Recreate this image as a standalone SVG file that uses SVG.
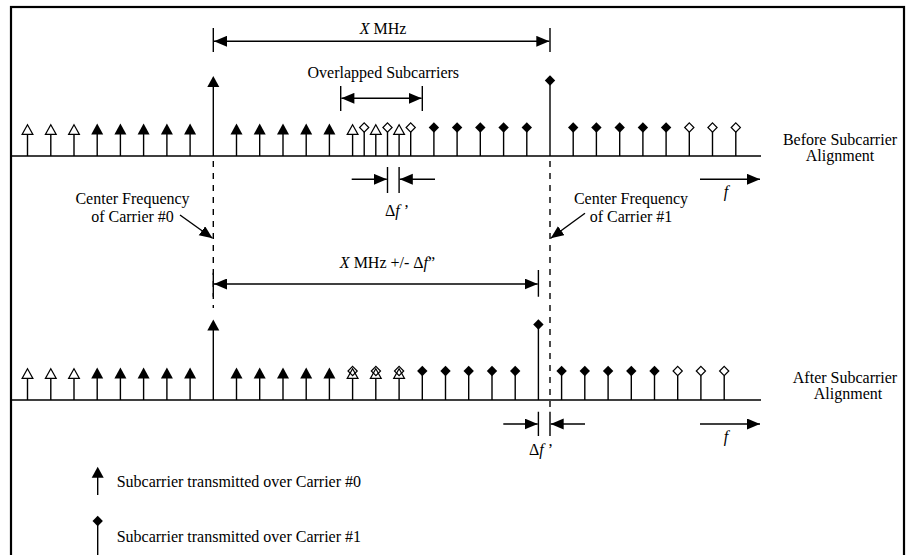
<svg xmlns="http://www.w3.org/2000/svg" xmlns:xlink="http://www.w3.org/1999/xlink" width="912" height="555" viewBox="0 0 912 555">
<style>
text{font-family:"Liberation Serif","Times New Roman",serif;font-size:16px;fill:#000}
.it{font-style:italic}
.ln{stroke:#000;stroke-width:1.4;fill:none}
.stem{stroke:#000;stroke-width:1.4;fill:none}
.dash{stroke:#000;stroke-width:1.4;stroke-dasharray:6 6;fill:none}
.arr{stroke:#000;stroke-width:1.4;fill:none;marker-end:url(#ah)}
.arr2{stroke:#000;stroke-width:1.4;fill:none;marker-start:url(#ahs);marker-end:url(#ah)}
</style>
<defs>
<marker id="ah" markerUnits="userSpaceOnUse" markerWidth="14" markerHeight="12" refX="13" refY="5.5" orient="auto"><path d="M0,0 L13,5.5 L0,11 Z" fill="#000"/></marker>
<marker id="ahs" markerUnits="userSpaceOnUse" markerWidth="14" markerHeight="12" refX="0" refY="5.5" orient="auto"><path d="M13,0 L0,5.5 L13,11 Z" fill="#000"/></marker>
<path id="triF" d="M0,0 L6,11 L-6,11 Z" fill="#000"/>
<path id="triO" d="M0,0.7 L5.4,10.4 L-5.4,10.4 Z" fill="#fff" stroke="#000" stroke-width="1.2"/>
<path id="diaF" d="M0,-5.2 L5.2,0 L0,5.2 L-5.2,0 Z" fill="#000"/>
<path id="diaO" d="M0,-4.6 L4.6,0 L0,4.6 L-4.6,0 Z" fill="#fff" stroke="#000" stroke-width="1.2"/>
<path id="diaN" d="M0,-4.6 L4.6,0 L0,4.6 L-4.6,0 Z" fill="none" stroke="#000" stroke-width="1.2"/>
</defs>
<rect x="0" y="0" width="912" height="555" fill="#fff"/>
<rect id="frame" x="11" y="7" width="893" height="560" fill="none" stroke="#000" stroke-width="2.2"/>

<g id="axes">
<path class="ln" d="M12,156 H761 M12,400 H761"/>
</g>

<g id="top-carrier0">
<path class="stem" d="M27.5,156V133 M50.8,156V133 M74,156V133 M97.2,156V133 M120.4,156V133 M143.6,156V133 M166.9,156V133 M190.1,156V133 M213.3,156V85 M236.5,156V133 M259.7,156V133 M283,156V133 M306.2,156V133 M329.4,156V133 M352.6,156V133 M375.8,156V133 M399.1,156V133"/>
<use href="#triO" x="27.5" y="124"/><use href="#triO" x="50.8" y="124"/><use href="#triO" x="74" y="124"/>
<use href="#triF" x="97.2" y="123.5"/><use href="#triF" x="120.4" y="123.5"/><use href="#triF" x="143.6" y="123.5"/><use href="#triF" x="166.9" y="123.5"/><use href="#triF" x="190.1" y="123.5"/>
<use href="#triF" x="213.3" y="76"/>
<use href="#triF" x="236.5" y="123.5"/><use href="#triF" x="259.7" y="123.5"/><use href="#triF" x="283" y="123.5"/><use href="#triF" x="306.2" y="123.5"/><use href="#triF" x="329.4" y="123.5"/>
<use href="#triO" x="352.6" y="124"/><use href="#triO" x="375.8" y="124"/><use href="#triO" x="399.1" y="124"/>
</g>

<g id="top-carrier1">
<path class="stem" d="M364.2,156V132 M387.5,156V132 M410.7,156V132 M433.9,156V128 M457.1,156V128 M480.3,156V128 M503.6,156V128 M526.8,156V128 M550,156V81 M573.2,156V128 M596.4,156V128 M619.7,156V128 M642.9,156V128 M666.1,156V128 M689.3,156V132 M712.5,156V132 M735.8,156V132"/>
<use href="#diaO" x="364.2" y="127.5"/><use href="#diaO" x="387.5" y="127.5"/><use href="#diaO" x="410.7" y="127.5"/>
<use href="#diaF" x="433.9" y="127.5"/><use href="#diaF" x="457.1" y="127.5"/><use href="#diaF" x="480.3" y="127.5"/><use href="#diaF" x="503.6" y="127.5"/><use href="#diaF" x="526.8" y="127.5"/>
<use href="#diaF" x="550" y="80.5"/>
<use href="#diaF" x="573.2" y="127.5"/><use href="#diaF" x="596.4" y="127.5"/><use href="#diaF" x="619.7" y="127.5"/><use href="#diaF" x="642.9" y="127.5"/><use href="#diaF" x="666.1" y="127.5"/>
<use href="#diaO" x="689.3" y="127.5"/><use href="#diaO" x="712.5" y="127.5"/><use href="#diaO" x="735.8" y="127.5"/>
</g>

<g id="bottom-carrier0">
<path class="stem" d="M27.5,400V377 M50.8,400V377 M74,400V377 M97.2,400V377 M120.4,400V377 M143.6,400V377 M166.9,400V377 M190.1,400V377 M213.3,400V329 M236.5,400V377 M259.7,400V377 M283,400V377 M306.2,400V377 M329.4,400V377 M352.6,400V377 M375.8,400V377 M399.1,400V377"/>
<use href="#triO" x="27.5" y="368"/><use href="#triO" x="50.8" y="368"/><use href="#triO" x="74" y="368"/>
<use href="#triF" x="97.2" y="367.5"/><use href="#triF" x="120.4" y="367.5"/><use href="#triF" x="143.6" y="367.5"/><use href="#triF" x="166.9" y="367.5"/><use href="#triF" x="190.1" y="367.5"/>
<use href="#triF" x="213.3" y="319.5"/>
<use href="#triF" x="236.5" y="367.5"/><use href="#triF" x="259.7" y="367.5"/><use href="#triF" x="283" y="367.5"/><use href="#triF" x="306.2" y="367.5"/><use href="#triF" x="329.4" y="367.5"/>
<use href="#triO" x="352.6" y="368"/><use href="#triO" x="375.8" y="368"/><use href="#triO" x="399.1" y="368"/>
</g>

<g id="bottom-carrier1">
<path class="stem" d="M422.3,400V372 M445.5,400V372 M468.7,400V372 M492,400V372 M515.2,400V372 M538.4,400V325 M561.6,400V372 M584.8,400V372 M608.1,400V372 M631.3,400V372 M654.5,400V372 M677.7,400V376 M700.9,400V376 M724.2,400V376"/>
<use href="#diaN" x="352.6" y="371"/><use href="#diaN" x="375.9" y="371"/><use href="#diaN" x="399.1" y="371"/>
<use href="#diaF" x="422.3" y="371"/><use href="#diaF" x="445.5" y="371"/><use href="#diaF" x="468.7" y="371"/><use href="#diaF" x="492" y="371"/><use href="#diaF" x="515.2" y="371"/>
<use href="#diaF" x="538.4" y="324.5"/>
<use href="#diaF" x="561.6" y="371"/><use href="#diaF" x="584.8" y="371"/><use href="#diaF" x="608.1" y="371"/><use href="#diaF" x="631.3" y="371"/><use href="#diaF" x="654.5" y="371"/>
<use href="#diaO" x="677.7" y="371"/><use href="#diaO" x="700.9" y="371"/><use href="#diaO" x="724.2" y="371"/>
</g>

<g id="connectors">
<path class="dash" d="M213.3,161V308"/>
<path class="dash" d="M550,161V411"/>
<path class="ln" d="M213.3,28V52 M550,28V52"/>
<path class="arr2" d="M214,41.3H549.3"/>
<path class="ln" d="M340.7,86V111 M422.3,86V111"/>
<path class="arr2" d="M341.4,98.3H421.6"/>
<path class="ln" d="M387.5,167V193 M399.1,167V193"/>
<path class="arr" d="M351.7,179.3H386.8"/>
<path class="arr" d="M435,179.3H399.8"/>
<path class="arr" d="M180,215L212.5,238.3"/>
<path class="arr" d="M585,213.3L550.7,238.3"/>
<path class="ln" d="M213.3,272.7V296.7 M538.4,270V296.7"/>
<path class="arr2" d="M214,284H537.7"/>
<path class="ln" d="M538.4,411.7V436 M550,411.7V436"/>
<path class="arr" d="M503.3,424H537.7"/>
<path class="arr" d="M585,424H550.7"/>
<path class="arr" d="M700,179.3H760"/>
<path class="arr" d="M700,424H760"/>
</g>

<g id="label-xmhz"><text x="383" y="33.5" text-anchor="middle"><tspan class="it">X</tspan> MHz</text></g>
<g id="label-overlapped"><text x="383.3" y="77.5" text-anchor="middle">Overlapped Subcarriers</text></g>
<g id="label-df-top"><text x="397" y="216" text-anchor="middle">Δ<tspan class="it">f</tspan> ’</text></g>
<g id="label-before"><text x="840" y="145" text-anchor="middle">Before Subcarrier</text><text x="840" y="160.5" text-anchor="middle">Alignment</text></g>
<g id="label-f-top"><text x="726" y="197" text-anchor="middle" class="it">f</text></g>
<g id="label-cf0"><text x="132.5" y="204" text-anchor="middle">Center Frequency</text><text x="132.5" y="222" text-anchor="middle">of Carrier #0</text></g>
<g id="label-cf1"><text x="631" y="204" text-anchor="middle">Center Frequency</text><text x="631" y="222" text-anchor="middle">of Carrier #1</text></g>
<g id="label-xmhz-pm"><text x="387.5" y="268" text-anchor="middle"><tspan class="it">X</tspan> MHz +/- Δ<tspan class="it">f</tspan>”</text></g>
<g id="label-after"><text x="845" y="383" text-anchor="middle">After Subcarrier</text><text x="848" y="398.5" text-anchor="middle">Alignment</text></g>
<g id="label-df-bottom"><text x="541" y="455" text-anchor="middle">Δ<tspan class="it">f</tspan> ’</text></g>
<g id="label-f-bottom"><text x="726" y="442" text-anchor="middle" class="it">f</text></g>

<g id="legend-carrier0">
<path class="stem" d="M97.7,495V476"/>
<use href="#triF" x="97.7" y="466.8"/>
<text x="116.7" y="487">Subcarrier transmitted over Carrier #0</text>
</g>
<g id="legend-carrier1">
<path class="stem" d="M97.7,556V521"/>
<use href="#diaF" x="97.7" y="521"/>
<text x="116.7" y="541.7">Subcarrier transmitted over Carrier #1</text>
</g>
</svg>
